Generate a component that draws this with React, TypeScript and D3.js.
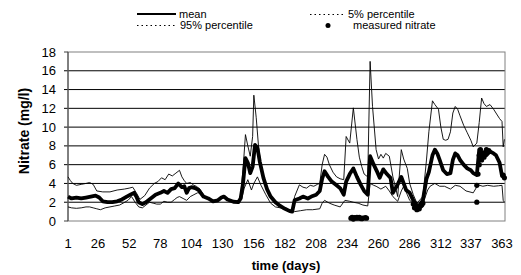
import { useEffect, useRef } from "react";
import * as d3 from "d3";

// x axis labels (days) and y ticks
const dayLabels = [1, 26, 52, 78, 104, 130, 156, 182, 208, 234, 260, 286, 312, 337, 363];
const nitrateTicks = [0, 2, 4, 6, 8, 10, 12, 14, 16, 18];

// [day, mg/l]
const mean: [number, number][] = [
  [1, 2.6], [4, 2.4], [8, 2.5], [12, 2.4], [16, 2.5], [20, 2.6], [24, 2.7], [27, 2.5], [30, 2.1],
  [34, 2.0], [38, 2.0], [42, 2.1], [46, 2.3], [50, 2.6], [53, 2.8], [56, 3.0], [58, 2.6], [60, 2.0],
  [63, 1.8], [66, 2.0], [70, 2.4], [74, 2.8], [78, 3.0], [81, 3.2], [84, 3.0], [87, 3.4], [90, 3.5],
  [93, 4.0], [96, 3.6], [98, 3.7], [100, 3.0], [102, 3.5], [104, 3.6], [107, 3.5], [110, 3.3],
  [114, 2.6], [118, 2.4], [122, 2.1], [126, 2.2], [129, 2.5], [131, 2.6], [134, 2.3], [139, 2.05],
  [143, 2.0], [145, 2.4], [147, 4.0], [149, 6.7], [151, 6.2], [153, 5.1], [155, 5.8], [157, 8.1],
  [159, 7.8], [161, 6.3], [164, 4.6], [167, 3.4], [170, 2.6], [174, 2.0], [178, 1.6], [182, 1.3],
  [186, 1.05], [188, 1.0], [190, 2.2], [194, 2.4], [197, 2.6], [201, 2.4], [204, 2.6], [208, 2.8],
  [211, 3.2], [213, 4.5], [215, 5.3], [218, 4.7], [221, 4.2], [225, 3.8], [228, 3.5], [231, 2.8],
  [233, 4.2], [236, 5.0], [239, 5.6], [242, 4.7], [245, 3.9], [248, 3.2], [251, 2.8], [253, 6.9],
  [256, 6.0], [259, 5.2], [261, 4.6], [264, 5.5], [267, 5.0], [270, 4.6], [272, 3.0], [276, 3.9],
  [279, 4.7], [283, 3.3], [286, 3.0], [289, 2.2], [293, 1.5], [297, 2.2], [300, 4.5], [302, 5.2],
  [305, 7.0], [307, 7.6], [309, 7.2], [311, 6.5], [314, 5.4], [317, 5.0], [320, 5.1], [322, 6.5],
  [324, 7.2], [326, 7.0], [328, 6.5], [331, 6.0], [334, 5.6], [337, 5.4], [339, 5.1], [342, 4.9],
  [344, 7.6], [346, 6.8], [348, 7.2], [350, 7.0], [353, 7.4], [356, 7.2], [358, 7.0], [361, 6.2],
  [363, 4.8], [365, 4.7]
];

const p95: [number, number][] = [
  [1, 4.7], [3, 4.3], [5, 4.0], [8, 3.8], [12, 3.9], [16, 4.0], [19, 4.1], [22, 3.9], [25, 3.2],
  [30, 3.1], [36, 3.1], [42, 3.3], [48, 3.4], [52, 3.5], [55, 3.6], [58, 3.0], [61, 2.3], [65, 2.7],
  [69, 3.5], [73, 4.0], [76, 4.2], [79, 4.6], [82, 4.4], [85, 5.0], [88, 4.8], [91, 5.1], [94, 5.4],
  [96, 4.7], [98, 4.3], [100, 4.0], [103, 4.1], [106, 3.8], [108, 3.7], [111, 3.4], [115, 2.6],
  [120, 2.2], [126, 2.2], [130, 2.6], [134, 2.3], [140, 2.1], [143, 2.1], [145, 2.7], [147, 5.5],
  [149, 9.2], [151, 8.0], [153, 6.9], [155, 9.0], [156, 13.4], [158, 11.0], [160, 7.8], [163, 5.0],
  [166, 3.6], [170, 2.5], [175, 1.8], [180, 1.4], [185, 1.05], [188, 1.0], [190, 2.6], [194, 3.85],
  [197, 3.6], [200, 3.5], [203, 3.8], [206, 3.7], [209, 3.9], [211, 4.0], [213, 6.0], [215, 7.1],
  [217, 6.8], [219, 6.0], [222, 5.2], [225, 4.7], [228, 4.5], [231, 4.4], [233, 9.0], [236, 8.3],
  [239, 12.05], [242, 8.7], [244, 6.8], [246, 5.8], [248, 5.0], [251, 4.7], [253, 17.0], [255, 12.2],
  [258, 7.6], [260, 6.6], [262, 7.1], [264, 6.7], [266, 7.2], [269, 6.9], [272, 4.7], [276, 2.6],
  [279, 7.6], [281, 6.6], [284, 5.6], [286, 4.0], [289, 2.8], [292, 1.9], [297, 2.6], [300, 6.5],
  [302, 9.5], [305, 12.8], [307, 12.4], [310, 11.9], [312, 10.0], [314, 8.7], [316, 8.6], [318, 8.7],
  [320, 9.5], [322, 11.5], [324, 12.2], [326, 11.9], [328, 11.2], [331, 10.2], [334, 9.4], [337, 8.6],
  [339, 7.9], [342, 8.3], [344, 10.5], [346, 13.1], [348, 12.5], [350, 12.2], [353, 12.4], [356, 11.9],
  [358, 11.5], [361, 10.9], [363, 10.6], [364, 7.9], [365, 8.7]
];

const p5: [number, number][] = [
  [1, 1.5], [4, 1.4], [8, 1.35], [12, 1.4], [16, 1.5], [19, 1.5], [22, 1.4], [25, 1.3], [28, 1.2],
  [32, 1.4], [36, 1.5], [40, 1.6], [44, 1.7], [47, 1.9], [51, 2.2], [54, 2.6], [57, 2.0], [60, 1.5],
  [63, 1.4], [66, 1.7], [69, 2.0], [72, 1.9], [75, 1.8], [78, 1.8], [81, 2.1], [84, 2.0], [87, 2.0],
  [90, 2.3], [92, 2.5], [94, 2.6], [97, 2.4], [100, 2.2], [103, 2.6], [106, 2.8], [109, 3.0],
  [111, 3.0], [114, 2.6], [118, 2.4], [122, 2.1], [126, 2.2], [130, 2.5], [134, 2.3], [139, 2.0],
  [143, 2.0], [146, 2.4], [148, 3.5], [151, 4.4], [154, 3.3], [156, 4.0], [159, 4.7], [162, 3.8],
  [166, 2.8], [170, 1.9], [174, 1.5], [178, 1.4], [182, 1.2], [186, 1.0], [190, 1.0], [195, 1.1],
  [200, 1.2], [205, 1.2], [211, 1.3], [213, 1.9], [215, 2.2], [219, 1.9], [223, 1.7], [228, 1.5],
  [232, 2.2], [236, 2.1], [239, 2.0], [243, 1.9], [247, 1.7], [251, 1.6], [253, 4.0], [256, 3.8],
  [258, 3.7], [262, 3.4], [266, 3.7], [269, 3.2], [272, 2.6], [276, 2.1], [279, 3.2], [281, 3.7],
  [284, 2.8], [286, 2.2], [289, 1.9], [293, 1.5], [298, 2.2], [301, 3.3], [303, 3.7], [307, 4.0],
  [311, 3.7], [315, 3.7], [320, 3.4], [324, 3.8], [328, 3.7], [333, 3.2], [339, 3.0], [343, 3.85],
  [347, 3.7], [351, 3.8], [356, 3.7], [360, 3.75], [363, 3.8], [364, 2.2], [365, 2.0]
];

const measured: [number, number][] = [
  [237, 0.3], [238, 0.4], [239, 0.2], [240, 0.35], [241, 0.3], [242, 0.4], [243, 0.3], [244, 0.4],
  [245, 0.3], [246, 0.25], [247, 0.3], [249, 0.35], [250, 0.3],
  [289, 1.8], [290, 1.4], [291, 1.5], [292, 1.2], [293, 1.5], [294, 1.3], [295, 1.6], [296, 1.7], [297, 1.9],
  [342, 2.0], [342, 3.8], [343, 5.0], [344, 6.0], [344, 7.0], [345, 7.6], [346, 6.5], [347, 7.2],
  [348, 6.8], [349, 7.3], [350, 7.6], [352, 7.5], [364, 4.9], [365, 4.6]
];

const FONT = "'Liberation Sans', Arial, sans-serif";

export default function App() {
  const svgRef = useRef<SVGSVGElement>(null);

  useEffect(() => {
    if (!svgRef.current) return;
    const svg = d3.select(svgRef.current);
    svg.selectAll("*").remove();

    const left = 68, right = 505, top = 52, bottom = 221;
    const x = d3.scaleLinear().domain([1, 365.5]).range([left, right]);
    const y = d3.scaleLinear().domain([0, 18]).range([bottom, top]);

    // grid lines
    svg.append("g")
      .selectAll("line")
      .data(nitrateTicks.filter((t) => t > 0 && t < 18))
      .join("line")
      .attr("x1", left - 4)
      .attr("x2", right)
      .attr("y1", (d) => y(d))
      .attr("y2", (d) => y(d))
      .attr("stroke", "#000")
      .attr("stroke-width", 1);

    // frame
    svg.append("rect")
      .attr("x", left)
      .attr("y", top)
      .attr("width", right - left)
      .attr("height", bottom - top)
      .attr("fill", "none")
      .attr("stroke", "#808080");
    svg.append("line")
      .attr("x1", left).attr("x2", left).attr("y1", top).attr("y2", bottom)
      .attr("stroke", "#404040");
    svg.append("line")
      .attr("x1", left - 4).attr("x2", left).attr("y1", bottom).attr("y2", bottom)
      .attr("stroke", "#404040");
    svg.append("line")
      .attr("x1", left - 4).attr("x2", left).attr("y1", top).attr("y2", top)
      .attr("stroke", "#404040");

    const line = d3.line<[number, number]>()
      .x((d) => x(d[0]))
      .y((d) => y(d[1]));

    svg.append("path").attr("d", line(p5)).attr("fill", "none").attr("stroke", "#000").attr("stroke-width", 0.9);
    svg.append("path").attr("d", line(p95)).attr("fill", "none").attr("stroke", "#000").attr("stroke-width", 0.9);
    svg.append("path").attr("d", line(mean)).attr("fill", "none").attr("stroke", "#000")
      .attr("stroke-width", 3.8).attr("stroke-linejoin", "round");

    svg.append("g")
      .selectAll("circle")
      .data(measured)
      .join("circle")
      .attr("cx", (d) => x(d[0]))
      .attr("cy", (d) => y(d[1]))
      .attr("r", 2.6)
      .attr("fill", "#000");

    // y tick labels
    svg.append("g")
      .selectAll("text")
      .data(nitrateTicks)
      .join("text")
      .attr("x", 56)
      .attr("y", (d) => y(d) + 4.5)
      .attr("text-anchor", "end")
      .style("font-family", FONT)
      .style("font-size", "13px")
      .text((d) => d);

    // x tick labels
    svg.append("g")
      .selectAll("text")
      .data(dayLabels)
      .join("text")
      .attr("x", (d) => x(d))
      .attr("y", 248)
      .attr("text-anchor", "middle")
      .style("font-family", FONT)
      .style("font-size", "13px")
      .text((d) => d);

    // axis titles
    svg.append("text")
      .attr("x", 286)
      .attr("y", 270)
      .attr("text-anchor", "middle")
      .style("font-family", FONT)
      .style("font-size", "13px")
      .style("font-weight", "bold")
      .text("time (days)");

    svg.append("text")
      .attr("transform", "translate(29,131) rotate(-90)")
      .attr("text-anchor", "middle")
      .style("font-family", FONT)
      .style("font-size", "14px")
      .style("font-weight", "bold")
      .text("Nitrate (mg/l)");

    // legend
    const lg = svg.append("g").style("font-family", FONT).style("font-size", "11px");
    lg.append("line").attr("x1", 137).attr("x2", 176).attr("y1", 14).attr("y2", 14)
      .attr("stroke", "#000").attr("stroke-width", 2);
    lg.append("text").attr("x", 179).attr("y", 17.5).text("mean");
    lg.append("line").attr("x1", 137).attr("x2", 175).attr("y1", 25.5).attr("y2", 25.5)
      .attr("stroke", "#000").attr("stroke-width", 1).attr("stroke-dasharray", "1.5,3");
    lg.append("text").attr("x", 180).attr("y", 29).text("95% percentile");
    lg.append("line").attr("x1", 310).attr("x2", 343).attr("y1", 14.5).attr("y2", 14.5)
      .attr("stroke", "#000").attr("stroke-width", 1).attr("stroke-dasharray", "1.5,3");
    lg.append("text").attr("x", 348).attr("y", 17.5).text("5% percentile");
    lg.append("circle").attr("cx", 328).attr("cy", 25.5).attr("r", 2.5).attr("fill", "#000");
    lg.append("text").attr("x", 353).attr("y", 29).text("measured nitrate");
  }, []);

  return (
    <svg
      ref={svgRef}
      width={521}
      height={275}
      style={{ position: "absolute", left: 0, top: 0, background: "#fff" }}
    />
  );
}
